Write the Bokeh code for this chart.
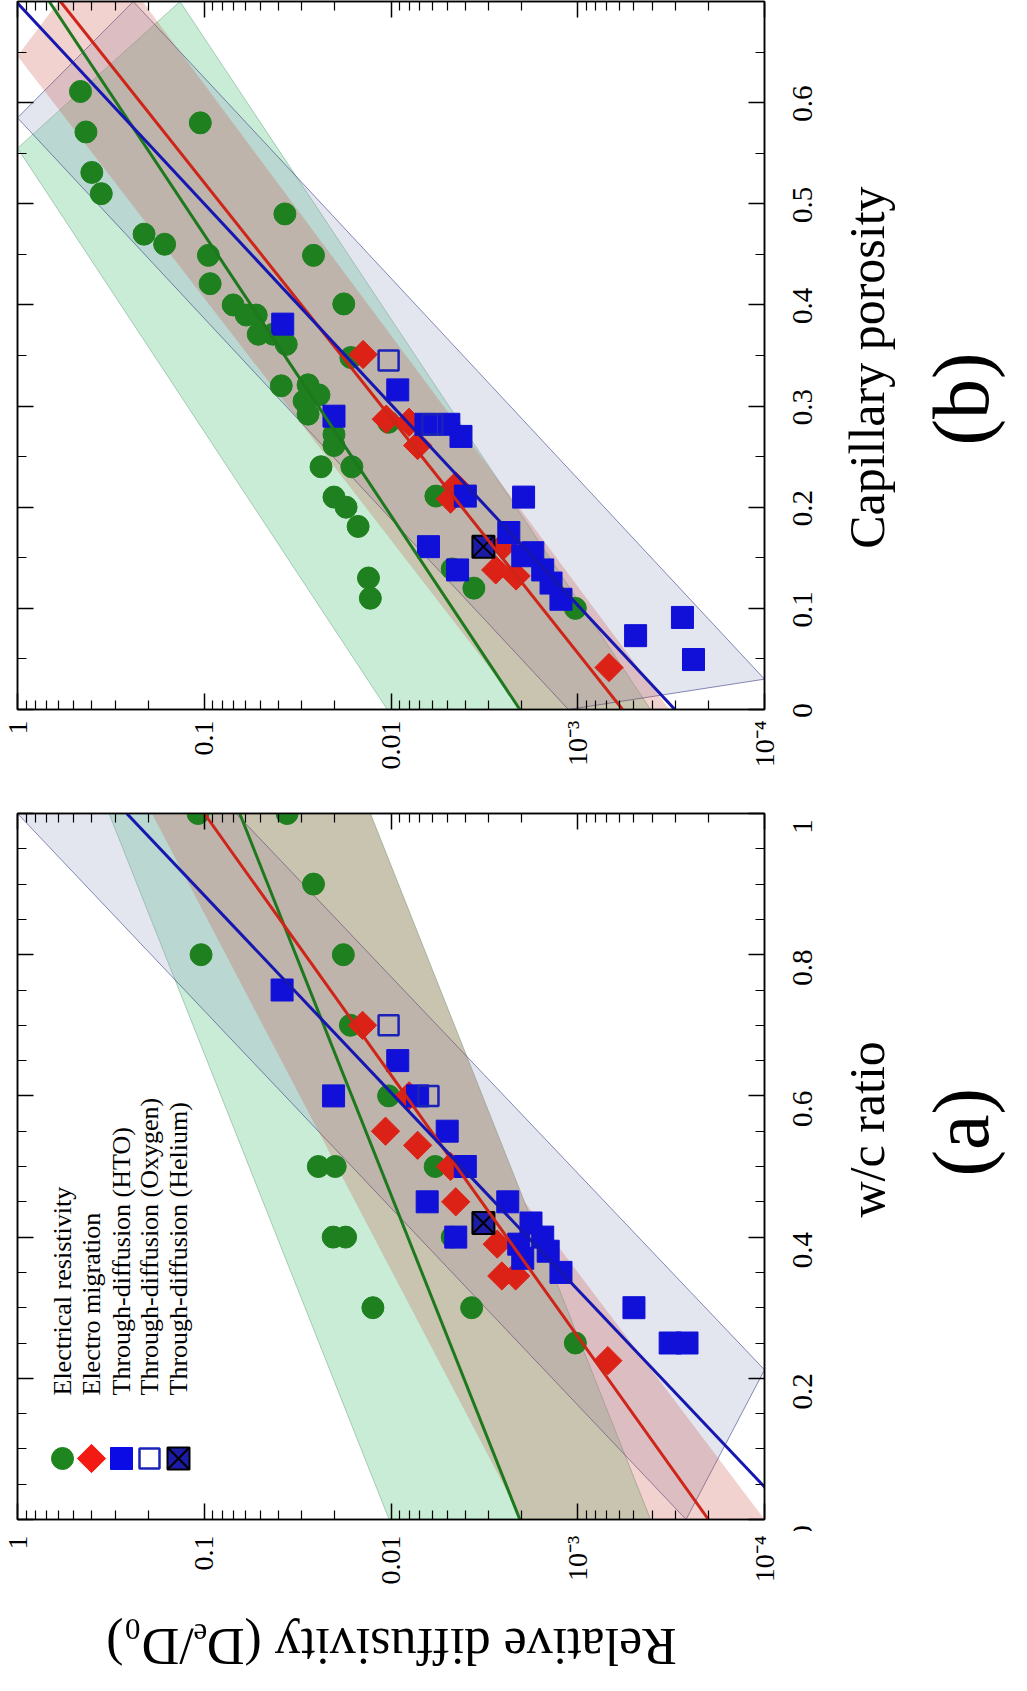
import math
from bokeh.plotting import figure
from bokeh.models import Range1d, FixedTicker, LinearAxis, LogAxis, Label
from bokeh.layouts import column, row
from bokeh.core.properties import value
from bokeh.embed import file_html
from bokeh.resources import INLINE

FONT = "Liberation Serif"

# ---------------- panel (a): w/c ratio ----------------
wc_er_a = [1.0, 1.0, 0.9, 0.8, 0.8, 0.7, 0.6, 0.5, 0.5, 0.5, 0.4, 0.4, 0.4, 0.3, 0.3, 0.25]
d_er_a = [0.108, 0.036, 0.026, 0.104, 0.018, 0.0165, 0.0103, 0.0245, 0.0199, 0.0058,
          0.0204, 0.0175, 0.0047, 0.0125, 0.0037, 0.00103]
wc_em_a = [0.7, 0.6, 0.55, 0.53, 0.5, 0.45, 0.39, 0.345, 0.345, 0.225]
d_em_a = [0.0142, 0.0080, 0.0107, 0.0072, 0.0048, 0.0045, 0.0027, 0.00255, 0.00215, 0.00069]
wc_hto_a = [0.75, 0.65, 0.6, 0.6, 0.55, 0.5, 0.45, 0.45, 0.4, 0.42, 0.4, 0.38, 0.35, 0.39, 0.37,
            0.3, 0.25, 0.25]
d_hto_a = [0.0383, 0.0092, 0.0203, 0.0072, 0.0050, 0.0040, 0.0064, 0.00237, 0.0045, 0.00178,
           0.00154, 0.00144, 0.00123, 0.00207, 0.00197, 0.00050, 0.00032, 0.00026]
wc_oxy_a = [0.7, 0.6]
d_oxy_a = [0.0103, 0.0063]
wc_he_a = [0.42]
d_he_a = [0.0032]

# fitted lines (end points, log10 of D)
line_wc_a = [0.0, 1.0]
blue_log_a = [-4.165, -0.585]
red_log_a = [-3.70, -1.00]
green_log_a = [-2.69, -1.19]

# scatter bands (vertices: w/c, log10 D)
band_green_wc_a = [0.0, 1.0, 1.0, 0.0]
band_green_log_a = [-1.99, -0.49, -1.89, -3.39]
band_lav_wc_a = [1.0, 0.0, 0.212, 1.0]
band_lav_log_a = [0.0, -3.58, -4.0, -1.17]
band_pink_wc_a = [1.0, 0.0, 0.0, 0.45, 1.0]
band_pink_log_a = [-0.72, -2.70, -4.0, -2.715, -1.89]

# ---------------- panel (b): capillary porosity ----------------
p_er_b = [0.611, 0.571, 0.580, 0.531, 0.51, 0.49, 0.47, 0.46, 0.449, 0.449, 0.421, 0.401, 0.40,
          0.39, 0.39, 0.371, 0.371, 0.361, 0.348, 0.32, 0.321, 0.311, 0.305, 0.292, 0.284, 0.272,
          0.261, 0.24, 0.24, 0.21, 0.2, 0.181, 0.211, 0.13, 0.11, 0.139, 0.12, 0.10]
d_er_b = [0.46, 0.43, 0.105, 0.40, 0.356, 0.037, 0.21, 0.163, 0.026, 0.095, 0.093, 0.0179, 0.070,
          0.0596, 0.0527, 0.0514, 0.0428, 0.0364, 0.0164, 0.0387, 0.0278, 0.0243, 0.0292, 0.0278,
          0.0103, 0.0202, 0.0202, 0.0237, 0.0162, 0.0202, 0.0174, 0.0150, 0.00575, 0.0132,
          0.0129, 0.0047, 0.0036, 0.00103]
p_em_b = [0.351, 0.287, 0.284, 0.261, 0.221, 0.208, 0.162, 0.138, 0.132, 0.0415]
d_em_b = [0.0141, 0.0106, 0.0080, 0.0072, 0.0045, 0.0048, 0.0025, 0.00275, 0.00214, 0.00068]
p_hto_b = [0.381, 0.29, 0.316, 0.282, 0.282, 0.27, 0.211, 0.21, 0.175, 0.161, 0.138, 0.155,
           0.138, 0.125, 0.109, 0.152, 0.073, 0.091, 0.0494]
d_hto_b = [0.038, 0.0202, 0.0092, 0.0065, 0.0049, 0.00422, 0.0040, 0.00195, 0.00234, 0.0063,
           0.0044, 0.00174, 0.00154, 0.00139, 0.00123, 0.00197, 0.00049, 0.000275, 0.00024]
p_oxy_b = [0.345, 0.282]
d_oxy_b = [0.0103, 0.006]
p_he_b = [0.161]
d_he_b = [0.0032]

line_p_b = [0.0, 0.7]
blue_log_b = [-3.52, 0.008]
red_log_b = [-3.24, -0.23]
green_log_b = [-2.69, -0.17]

band_green_p_b = [0.555, 0.70, 0.0, 0.0]
band_green_log_b = [0.0, -0.87, -3.39, -1.98]
band_lav_p_b = [0.585, 0.70, 0.03, 0.0]
band_lav_log_b = [0.0, -0.62, -4.0, -2.95]
band_pink_p_b = [0.646, 0.70, 0.70, 0.0, 0.0]
band_pink_log_b = [0.0, -0.22, -0.67, -3.49, -2.70]

# ---------------- axes ticks / labels ----------------
d_ticks = [1.0, 0.1, 0.01, 0.001, 0.0001]
d_tick_labels = ["1", "0.1", "0.01", "10\u207b\u00b3", "10\u207b\u2074"]
wc_ticks = [0.0, 0.2, 0.4, 0.6, 0.8, 1.0]
wc_tick_labels = ["0", "0.2", "0.4", "0.6", "0.8", "1"]
p_ticks = [0.0, 0.1, 0.2, 0.3, 0.4, 0.5, 0.6]
p_tick_labels = ["0", "0.1", "0.2", "0.3", "0.4", "0.5", "0.6"]

legend_labels = ["Electrical resistivity", "Electro migration", "Through-diffusion (HTO)",
                 "Through-diffusion (Oxygen)", "Through-diffusion (Helium)"]

# ---------------- layout constants (pixels) ----------------
TOTAL_W = 1011
FW = 747            # frame width of both panels
BL, BR = 17, 4      # left / right borders of the panel figures
PW = BL + FW + BR   # panel figure width
RW = TOTAL_W - PW   # width of the text column on the right
FH_B, TB_B, BB_B = 708, 1, 10
FH_A, TB_A, BB_A = 706, 13, 12
HB = TB_B + FH_B + BB_B
HA = TB_A + FH_A + BB_A
LAB_B_H = 800 - HB          # strip under panel (b) holding its tick labels
LAB_A_H = 1675 - 800 - HA   # strip under panel (a): tick labels and axis title
DEC = FW / 4.0              # pixels per decade
X_TICKLAB = 810 - 8 - PW    # centre of the right tick labels inside the text column
X_TITLE = 874 - 8 - PW
X_PANEL = 968 - 8 - PW

C_GREEN = "#1f801f"
C_RED = "#dc2216"
C_BLUE = "#1010d8"
C_OPEN = "#1a22b8"
C_HE = "#1c1ca6"
L_GREEN = "#1f861f"
L_RED = "#f21a12"
L_BLUE = "#0b0be6"


def pow10(vals):
    return [10 ** v for v in vals]


def make_fig(y_max, frame_h, top, bottom, y_ticks):
    p = figure(frame_width=FW, frame_height=frame_h, x_axis_type="log",
               x_range=Range1d(1.0, 1e-4), y_range=Range1d(0, y_max),
               y_axis_location="right", output_backend="svg", toolbar_location=None,
               min_border_left=BL, min_border_right=BR, min_border_top=top,
               min_border_bottom=bottom)
    p.xgrid.visible = False
    p.ygrid.visible = False
    p.outline_line_color = "black"
    p.outline_line_width = 1.5
    p.background_fill_color = "white"
    p.border_fill_color = "white"
    x_minor = [m * 10 ** e for e in range(-4, 0) for m in range(2, 10)]
    y_minor = [round(0.05 * k, 3) for k in range(0, int(round(y_max / 0.05)) + 1)]
    xt = FixedTicker(ticks=d_ticks, minor_ticks=x_minor)
    yt = FixedTicker(ticks=y_ticks, minor_ticks=y_minor)
    p.add_layout(LinearAxis(), "left")
    p.add_layout(LogAxis(), "above")
    for ax in p.xaxis:
        ax.ticker = xt
    for ax in p.yaxis:
        ax.ticker = yt
    for ax in list(p.xaxis) + list(p.yaxis):
        ax.major_label_text_font_size = "1px"
        ax.major_label_text_alpha = 0.0
        ax.major_label_standoff = 0
        ax.major_tick_in = 16
        ax.major_tick_out = 0
        ax.minor_tick_in = 9
        ax.minor_tick_out = 0
        ax.axis_line_color = "black"
        ax.axis_line_width = 1.5
        ax.major_tick_line_width = 1.5
        ax.minor_tick_line_width = 1.2
    return p


def text_fig(w, h, xr, yr, x_log=False):
    p = figure(frame_width=w, frame_height=h, x_range=xr, y_range=yr,
               x_axis_type="log" if x_log else "linear",
               x_axis_location=None, y_axis_location=None, output_backend="svg",
               toolbar_location=None, min_border_left=0, min_border_right=0,
               min_border_top=0, min_border_bottom=0, outline_line_color=None)
    p.xgrid.visible = False
    p.ygrid.visible = False
    return p


def put_text(p, xs, ys, texts, size, angle, align="center", baseline="middle"):
    p.text(x=xs, y=ys, text=texts, angle=angle, text_align=align, text_baseline=baseline,
           text_font=value(FONT), text_font_size=value(size), text_color="black")


def lab(p, text, x, y, size, angle, align="center", baseline="middle"):
    p.add_layout(Label(x=x, y=y, x_units="screen", y_units="screen", text=text,
                       text_font=FONT, text_font_size=size, angle=angle, text_align=align,
                       text_baseline=baseline, text_color="black"))


def draw_panel(p, er, em, hto, oxy, he, bands, lines):
    (gx, gl), (lx, ll), (px_, pl) = bands
    p.patch(pow10(gl), gx, fill_color="#23b35b", fill_alpha=0.25, line_color="#3a7a55",
            line_alpha=0.35, line_width=1)
    p.patch(pow10(ll), lx, fill_color="#979fc3", fill_alpha=0.27, line_color="#2a2f7a",
            line_alpha=0.55, line_width=1)
    p.patch(pow10(pl), px_, fill_color="#c85040", fill_alpha=0.26, line_color=None)
    p.scatter(er[0], er[1], marker="circle", size=22, fill_color=C_GREEN, line_color=C_GREEN)
    p.scatter(em[0], em[1], marker="square", angle=math.pi / 4, size=20, fill_color=C_RED,
              line_color=C_RED)
    p.scatter(hto[0], hto[1], marker="square", size=22, fill_color=C_BLUE, line_color=C_BLUE)
    p.scatter(oxy[0], oxy[1], marker="square", size=20, fill_color=None, line_color=C_OPEN,
              line_width=2.5)
    p.scatter(he[0], he[1], marker="square_x", size=22, fill_color=C_HE, line_color="black",
              line_width=2)
    lx_, (bl, rl, gl2) = lines
    p.line(pow10(gl2), lx_, line_color="#1e781e", line_width=3)
    p.line(pow10(rl), lx_, line_color="#cf2418", line_width=3)
    p.line(pow10(bl), lx_, line_color="#1616b0", line_width=3)


# log range of a full-width strip (the panel frames start BL px from the left)
strip_xr_start = 10 ** (BL / DEC)
strip_xr_end = 10 ** (-(TOTAL_W - BL) / DEC)

# ---------------- panel (b) ----------------
pb = make_fig(0.7, FH_B, TB_B, BB_B, p_ticks)
draw_panel(pb, (d_er_b, p_er_b), (d_em_b, p_em_b), (d_hto_b, p_hto_b), (d_oxy_b, p_oxy_b),
           (d_he_b, p_he_b),
           ((band_green_p_b, band_green_log_b), (band_lav_p_b, band_lav_log_b),
            (band_pink_p_b, band_pink_log_b)),
           (line_p_b, (blue_log_b, red_log_b, green_log_b)))
per_b = 0.7 / FH_B
rb = text_fig(RW, HB, Range1d(0, RW), Range1d(-BB_B * per_b, 0.7 + TB_B * per_b))
put_text(rb, [X_TICKLAB] * len(p_ticks), p_ticks, p_tick_labels, "29px", math.pi / 2)
put_text(rb, [X_TITLE], [0.339], ["Capillary porosity"], "50px", math.pi / 2)
put_text(rb, [X_PANEL], [0.308], ["(b)"], "80px", math.pi / 2)
sb = text_fig(TOTAL_W, LAB_B_H, Range1d(strip_xr_start, strip_xr_end), Range1d(LAB_B_H, 0),
              x_log=True)
put_text(sb, d_ticks, [1] * len(d_ticks), d_tick_labels, "28px", math.pi / 2, align="right")

# ---------------- panel (a) ----------------
pa = make_fig(1.0, FH_A, TB_A, BB_A, wc_ticks)
draw_panel(pa, (d_er_a, wc_er_a), (d_em_a, wc_em_a), (d_hto_a, wc_hto_a), (d_oxy_a, wc_oxy_a),
           (d_he_a, wc_he_a),
           ((band_green_wc_a, band_green_log_a), (band_lav_wc_a, band_lav_log_a),
            (band_pink_wc_a, band_pink_log_a)),
           (line_wc_a, (blue_log_a, red_log_a, green_log_a)))
per_a = 1.0 / FH_A
ra = text_fig(RW, HA, Range1d(0, RW), Range1d(-BB_A * per_a, 1.0 + TB_A * per_a))
put_text(ra, [X_TICKLAB] * len(wc_ticks), wc_ticks, wc_tick_labels, "29px", math.pi / 2)
put_text(ra, [X_TITLE], [0.571], ["w/c ratio"], "50px", math.pi / 2)
put_text(ra, [X_PANEL], [0.567], ["(a)"], "80px", math.pi / 2)
sa = text_fig(TOTAL_W, LAB_A_H, Range1d(strip_xr_start, strip_xr_end), Range1d(LAB_A_H, 0),
              x_log=True)
put_text(sa, d_ticks, [4] * len(d_ticks), d_tick_labels, "28px", math.pi / 2, align="right")
title_x = 10 ** (-(399 - 8 - BL) / DEC)
put_text(sa, [title_x], [115], ["Relative diffusivity (D\u2091/D\u2080)"], "52px", math.pi)

# legend (placed in screen pixels of the frame, converted to data through the axis ranges)
leg_px = [45, 74, 104, 132, 161]
leg_py = 61


def sx(px):
    return 10 ** (-px / DEC)


leg_y = leg_py / FH_A * 1.0
pa.scatter([sx(leg_px[0])], [leg_y], marker="circle", size=22, fill_color=L_GREEN,
           line_color=L_GREEN)
pa.scatter([sx(leg_px[1])], [leg_y], marker="square", angle=math.pi / 4, size=20,
           fill_color=L_RED, line_color=L_RED)
pa.scatter([sx(leg_px[2])], [leg_y], marker="square", size=22, fill_color=L_BLUE,
           line_color=L_BLUE)
pa.scatter([sx(leg_px[3])], [leg_y], marker="square", size=20, fill_color="white",
           line_color=C_OPEN, line_width=2.5)
pa.scatter([sx(leg_px[4])], [leg_y], marker="square_x", size=22, fill_color=C_HE,
           line_color="black", line_width=2)
for px, t in zip(leg_px, legend_labels):
    lab(pa, t, px, 124, "26px", math.pi / 2, align="left")

layout = column(row(pb, rb), sb, row(pa, ra), sa)
open("out.html", "w").write(file_html(layout, INLINE))
